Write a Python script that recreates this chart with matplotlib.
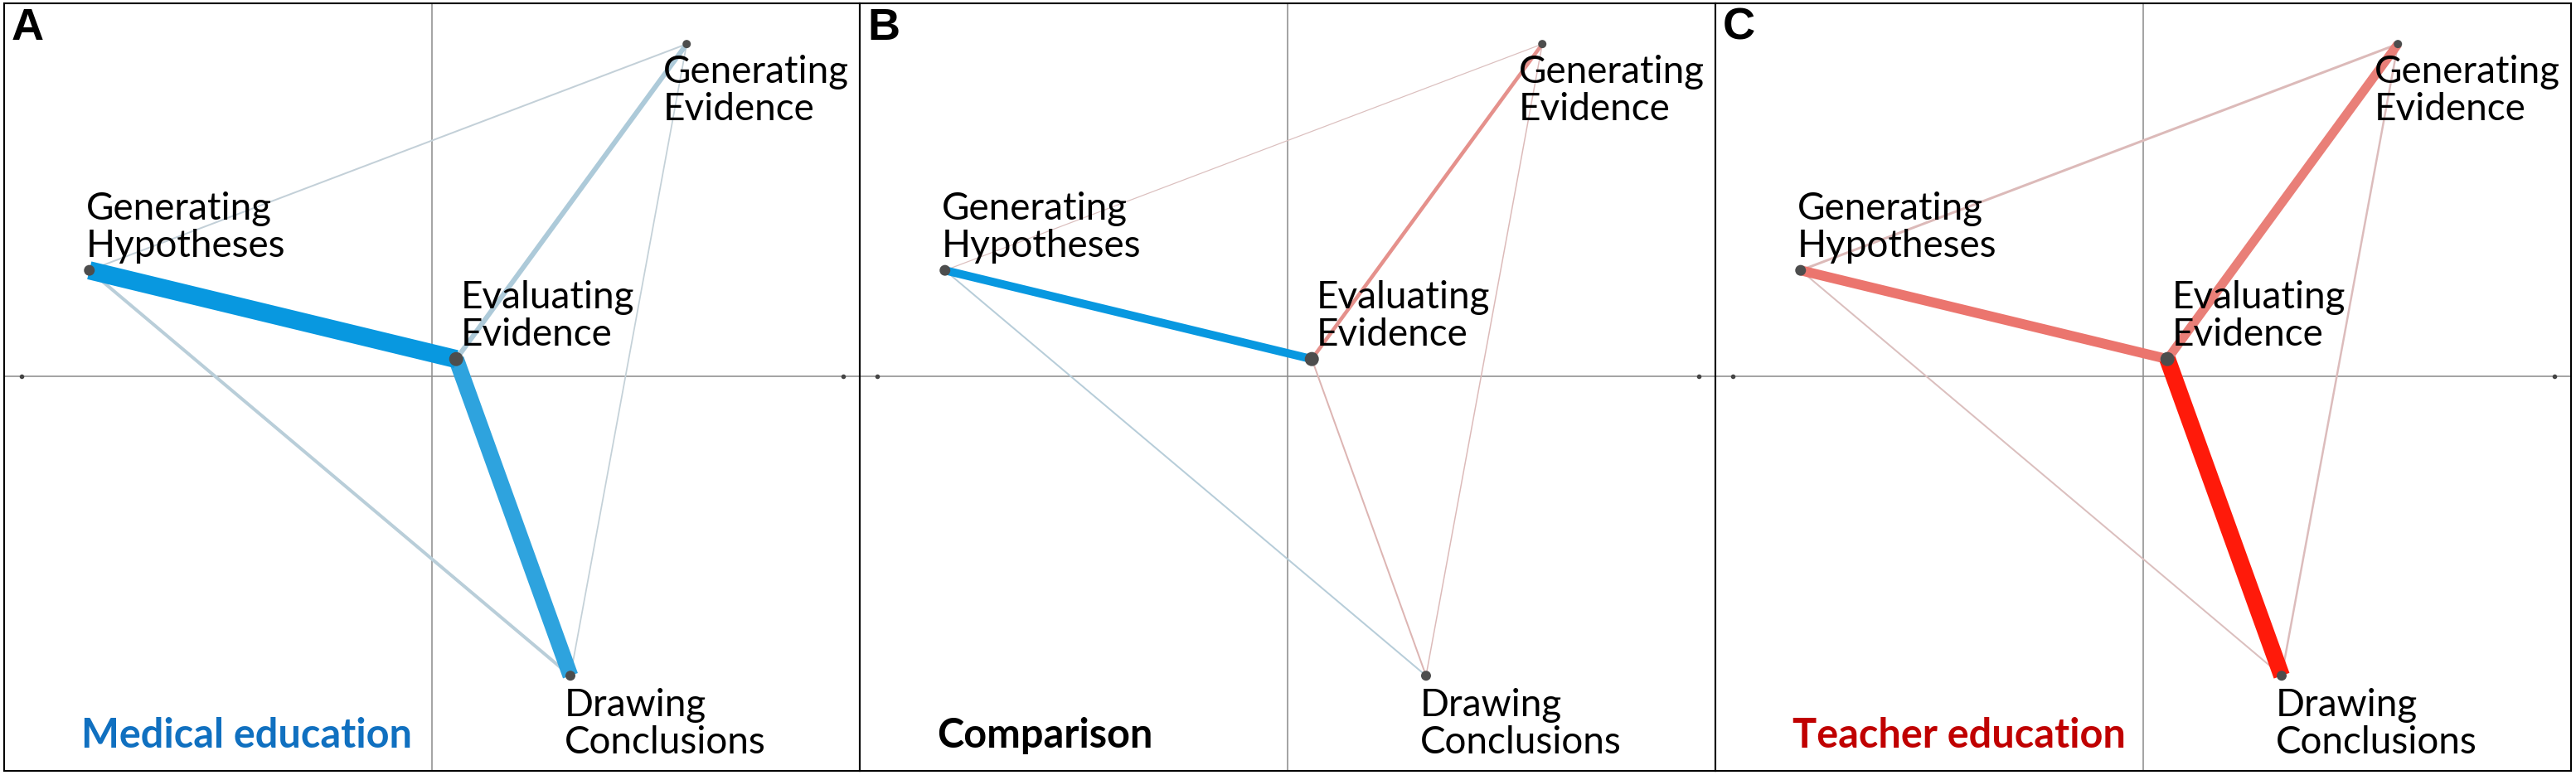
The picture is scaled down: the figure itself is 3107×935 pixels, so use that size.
import matplotlib.pyplot as plt
import numpy as np

# node coordinates (ENA space, x axis endpoints at -1 / +1)
nodes = ["GH", "EE", "GE", "DC"]
node_labels = ["Generating\nHypotheses", "Evaluating\nEvidence",
               "Generating\nEvidence", "Drawing\nConclusions"]
node_x = [-0.834, 0.059, 0.620, 0.337]
node_y = [0.258, 0.042, 0.809, -0.729]
node_weight = [0.26, 0.34, 0.20, 0.24]

# edges between nodes
edge_from = ["GH", "EE", "EE", "GH", "GH", "GE"]
edge_to = ["EE", "DC", "GE", "DC", "GE", "DC"]

# connection strengths per panel (comparison: + medical, - teacher)
medical = [0.44, 0.38, 0.12, 0.08, 0.04, 0.035]
comparison = [0.20, -0.04, -0.09, 0.04, -0.02, -0.03]
teacher = [-0.24, -0.40, -0.22, -0.04, -0.06, -0.05]

panel_letters = ["A", "B", "C"]
panel_titles = ["Medical education", "Comparison", "Teacher education"]
title_colors = ["#1070c0", "#000000", "#c00000"]

W, H = 3107, 935
UNIT = 495.5  # pixels per ENA unit
BLUE = np.array([8, 152, 224]) / 255
BLUE_LIGHT = np.array([200, 210, 216]) / 255
RED = np.array([255, 26, 10]) / 255
RED_LIGHT = np.array([218, 196, 196]) / 255


def edge_color(w, wmax):
    t = (abs(w) / wmax) ** 1.5
    if w >= 0:
        return t * BLUE + (1 - t) * BLUE_LIGHT
    return t * RED + (1 - t) * RED_LIGHT


fig = plt.figure(figsize=(W / 100, H / 100), dpi=100)

# offsets (px) of the last text line baseline from the node
label_offsets = [(-4, 16), (6, 16), (-28, -92), (-7, -94)]
panel_w = 1032
top, bottom = 4, 930
center_y = 454

for i, weights in enumerate([medical, comparison, teacher]):
    left = 5 + i * panel_w
    ax = fig.add_axes([left / W, (H - bottom) / H, panel_w / W, (bottom - top) / H])
    half = panel_w / 2 / UNIT
    ax.set_xlim(-half, half)
    ax.set_ylim(-(bottom - center_y) / UNIT, (center_y - top) / UNIT)
    ax.set_xticks([])
    ax.set_yticks([])
    for s in ax.spines.values():
        s.set_linewidth(1.5)
        s.set_color("black")

    ax.axhline(0, color="#8a8a8a", lw=1.1, zorder=1)
    ax.axvline(0, color="#8a8a8a", lw=1.1, zorder=1)
    ax.plot([-1, 1], [0, 0], "o", ms=3, color="#444444", zorder=2)

    wmax = max(abs(w) for w in weights)
    order = np.argsort(np.abs(weights))
    for k in order:
        a = nodes.index(edge_from[k])
        b = nodes.index(edge_to[k])
        w = weights[k]
        ax.plot([node_x[a], node_x[b]], [node_y[a], node_y[b]],
                color=edge_color(w, wmax), lw=max(abs(w) * 50, 1.2) * 0.72,
                solid_capstyle="butt", zorder=3)

    sizes = [(nw * 50 * 0.72) ** 2 for nw in node_weight]
    ax.scatter(node_x, node_y, s=sizes, color="#4d4d4d", zorder=5, linewidths=0)

    for j, lab in enumerate(node_labels):
        ax.annotate(lab, xy=(node_x[j], node_y[j]), xytext=label_offsets[j],
                    textcoords="offset pixels", ha="left", va="baseline",
                    fontsize=33, family="Lato", linespacing=1.08, zorder=6)

    fig.text((left + 9) / W, (H - 48) / H, panel_letters[i], fontsize=39,
             fontweight="bold", family="Liberation Sans", va="baseline")
    fig.text((left + 93) / W, (H - 902) / H, panel_titles[i], fontsize=35,
             fontweight="bold", family="Lato", color=title_colors[i],
             va="baseline")

fig.savefig("out.png", dpi=100)
